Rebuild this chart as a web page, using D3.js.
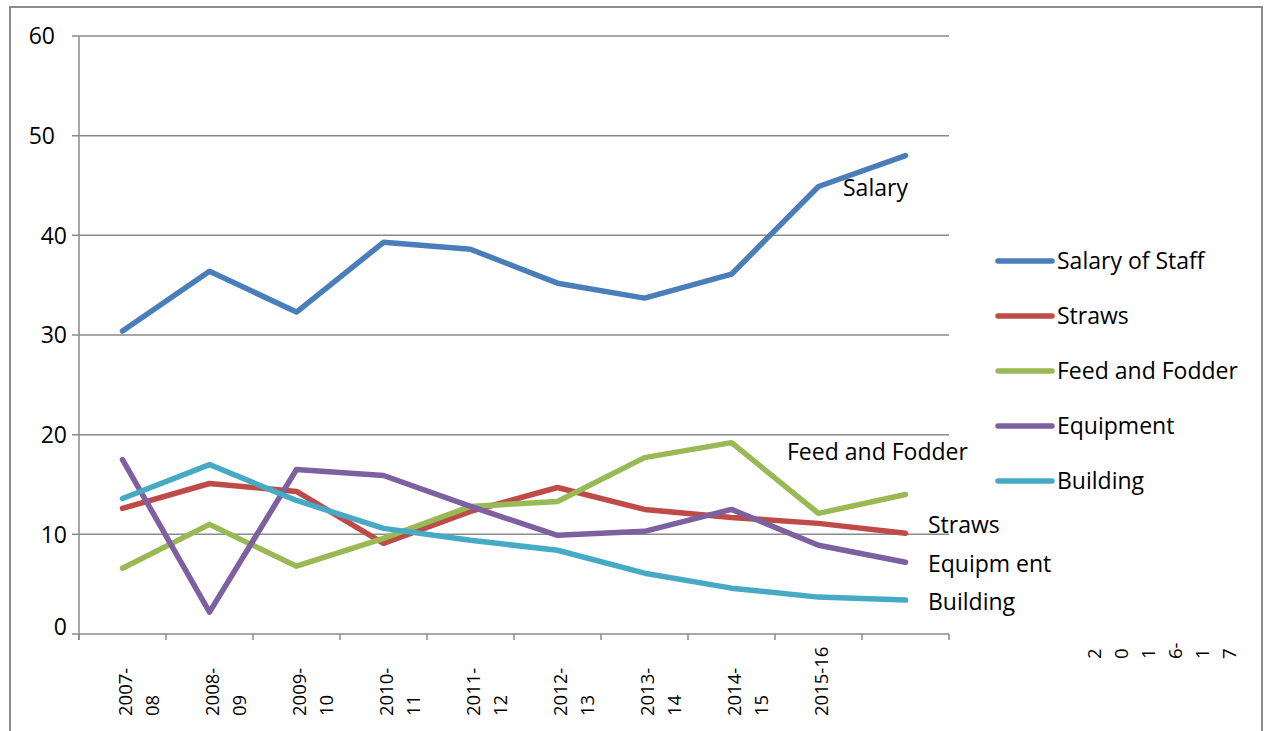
<!DOCTYPE html>
<html>
<head>
<meta charset="utf-8">
<script src="https://cdn.jsdelivr.net/npm/d3@7"></script>
<style>
  html, body { margin: 0; padding: 0; background: #fff; }
  svg { display: block; font-family: "Open Sans", "Noto Sans", sans-serif; }
</style>
</head>
<body>
<svg id="chart" width="1265" height="731"></svg>
<script>
// categories and tick label lines (as wrapped in the original)
const categories = ["2007-08", "2008-09", "2009-10", "2010-11", "2011-12",
  "2012-13", "2013-14", "2014-15", "2015-16", "2016-17"];
const tickLines = [["2007-", "08"], ["2008-", "09"], ["2009-", "10"], ["2010-", "11"],
  ["2011-", "12"], ["2012-", "13"], ["2013-", "14"], ["2014-", "15"], ["2015-16"],
  ["2", "0", "1", "6-", "1", "7"]];

// series values
const salary    = [30.4, 36.4, 32.3, 39.3, 38.6, 35.2, 33.7, 36.1, 44.9, 48.0];
const straws    = [12.6, 15.1, 14.3, 9.1, 12.3, 14.7, 12.5, 11.7, 11.1, 10.1];
const feed      = [6.6, 11.0, 6.8, 9.6, 12.8, 13.3, 17.7, 19.2, 12.1, 14.0];
const equipment = [17.5, 2.2, 16.5, 15.9, 12.8, 9.9, 10.3, 12.5, 8.9, 7.2];
const building  = [13.6, 17.0, 13.4, 10.6, 9.4, 8.4, 6.1, 4.6, 3.7, 3.4];

const seriesNames = ["Salary of Staff", "Straws", "Feed and Fodder", "Equipment", "Building"];
const endLabels = ["Salary", "Straws", "Feed and Fodder", "Equipm ent", "Building"];
const yTicks = [0, 10, 20, 30, 40, 50, 60];

const colors = ["#4a7ebb", "#be4b48", "#98b954", "#7d60a0", "#46aac5"];
const allSeries = [salary, straws, feed, equipment, building];

const svg = d3.select("#chart");
const plotL = 79, plotR = 949, plotT = 36, plotB = 634;
const gridCol = "#8a8a8a";

// 外框
svg.append("rect")
  .attr("x", 10).attr("y", 7)
  .attr("width", 1252).attr("height", 740)
  .attr("fill", "none")
  .attr("stroke", "#8c8c8c")
  .attr("stroke-width", 2);

const x = d3.scaleBand().domain(categories).range([plotL, plotR]).padding(0);
const y = d3.scaleLinear().domain([0, 60]).range([plotB, plotT]);

// 网格线
svg.append("g")
  .selectAll("line")
  .data(yTicks)
  .enter()
  .append("line")
  .attr("x1", plotL - 7).attr("x2", plotR)
  .attr("y1", d => y(d)).attr("y2", d => y(d))
  .attr("stroke", gridCol)
  .attr("stroke-width", 1.5);

// y 轴线
svg.append("line")
  .attr("x1", plotL).attr("x2", plotL)
  .attr("y1", plotT).attr("y2", plotB + 6)
  .attr("stroke", gridCol).attr("stroke-width", 1.5);

// x 轴刻度
const tickPos = categories.map(c => x(c)).concat([x.range()[1]]);
svg.append("g")
  .selectAll("line")
  .data(tickPos)
  .enter()
  .append("line")
  .attr("x1", d => d).attr("x2", d => d)
  .attr("y1", plotB).attr("y2", plotB + 6)
  .attr("stroke", gridCol).attr("stroke-width", 1.5);

// y 轴标签
svg.append("g")
  .selectAll("text")
  .data(yTicks)
  .enter()
  .append("text")
  .attr("x", d => d >= 50 ? 55 : 67)
  .attr("y", d => y(d) - (d === 0 ? 7 : 0))
  .attr("dy", "0.36em")
  .attr("text-anchor", "end")
  .attr("font-size", 23)
  .attr("fill", "#000")
  .text(d => d);

// x 轴标签（旋转）
const catLabels = svg.append("g")
  .selectAll("text")
  .data(categories)
  .enter()
  .append("text")
  .attr("transform", (d, i) => {
    const last = i === categories.length - 1;
    const cx = x(d) + x.bandwidth() / 2 + (last ? 195 : 9);
    const cy = last ? 659 : 716;
    return `translate(${cx},${cy}) rotate(-90)`;
  })
  .attr("font-size", 18.5)
  .attr("fill", "#000");

catLabels.each(function(d, i) {
  const t = d3.select(this);
  tickLines[i].forEach((ln, j) => {
    t.append("tspan").attr("x", 0).attr("y", j * 27).text(ln);
  });
});

// 折线
const line = d3.line()
  .x((d, i) => x(categories[i]) + x.bandwidth() / 2)
  .y(d => y(d));

svg.append("g")
  .selectAll("path")
  .data(allSeries)
  .enter()
  .append("path")
  .attr("d", line)
  .attr("fill", "none")
  .attr("stroke", (d, i) => colors[i])
  .attr("stroke-width", 5.5)
  .attr("stroke-linejoin", "round")
  .attr("stroke-linecap", "round");

// 线尾标签
const endPos = [[843, 196], [928, 533], [787, 460], [928, 572], [928, 610]];
svg.append("g")
  .selectAll("text")
  .data(endLabels)
  .enter()
  .append("text")
  .attr("x", (d, i) => endPos[i][0])
  .attr("y", (d, i) => endPos[i][1])
  .attr("font-size", 23)
  .attr("fill", "#000")
  .text(d => d);

// 图例
const legend = svg.append("g")
  .selectAll("g")
  .data(seriesNames)
  .enter()
  .append("g")
  .attr("transform", (d, i) => `translate(998,${261 + i * 55})`);

legend.append("line")
  .attr("x1", 0).attr("x2", 54)
  .attr("stroke", (d, i) => colors[i])
  .attr("stroke-width", 5.5)
  .attr("stroke-linecap", "round");

legend.append("text")
  .attr("x", 59)
  .attr("dy", "0.36em")
  .attr("font-size", 23)
  .attr("fill", "#000")
  .text(d => d);
</script>
</body>
</html>
